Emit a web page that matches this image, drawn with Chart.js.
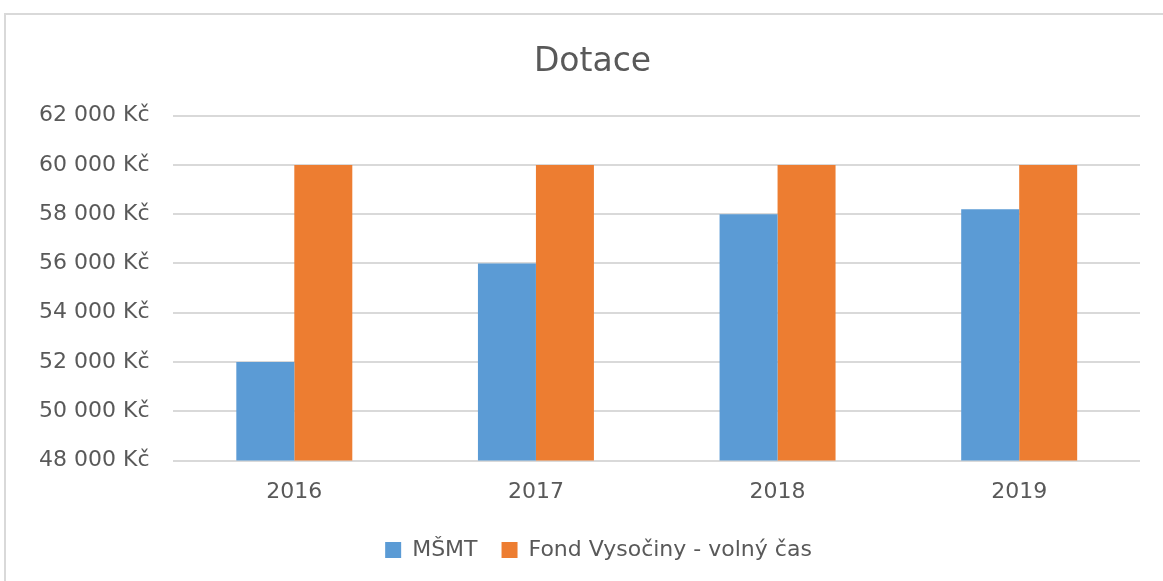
<!DOCTYPE html>
<html>
<head>
<meta charset="utf-8">
<script src="https://cdn.jsdelivr.net/npm/chart.js@4"></script>
<style>
  body { margin: 0; background: #fff; }
  #frame {
    position: absolute; left: 4px; top: 13px; width: 1170px; height: 580px;
    border: 2px solid #d9d9d9; box-sizing: border-box;
  }
  #wrap { position: absolute; left: 0; top: 0; width: 1163px; height: 581px; }
</style>
</head>
<body>
<div id="frame"></div>
<div id="wrap"><canvas id="chart"></canvas></div>
<script>
const years = ['2016', '2017', '2018', '2019'];
const msmt = [52000, 56000, 58000, 58200];
const fond = [60000, 60000, 60000, 60000];
const series_names = ['MŠMT', 'Fond Vysočiny - volný čas'];
const TEXT = '#595959';
const FONT = "'DejaVu Sans', sans-serif";

function kc(value) {
  // 62000 -> "62 000 Kč"
  let s = String(value).replace(/\B(?=(\d{3})+(?!\d))/g, ' ');
  return s + ' Kč';
}

// title and legend sit a little right of the canvas centre in the original
const nudge = {
  id: 'nudge',
  afterLayout(chart) {
    chart.titleBlock.left += 15;
    chart.titleBlock.right += 15;
    chart.legend.left += 21;
    chart.legend.right += 21;
  }
};

new Chart(document.getElementById('chart'), {
  type: 'bar',
  data: {
    labels: years,
    datasets: [
      { label: series_names[0], data: msmt, backgroundColor: '#5b9bd5' },
      { label: series_names[1], data: fond, backgroundColor: '#ed7d31' }
    ]
  },
  plugins: [nudge],
  options: {
    responsive: true,
    maintainAspectRatio: false,
    animation: false,
    layout: { padding: { left: 15, right: 23, top: 43, bottom: 10 } },
    datasets: { bar: { categoryPercentage: 0.48, barPercentage: 1 } },
    plugins: {
      title: {
        display: true, text: 'Dotace', color: TEXT,
        font: { family: FONT, size: 33, weight: 'normal' },
        padding: { top: 0, bottom: 33 }
      },
      legend: {
        position: 'bottom',
        labels: {
          color: TEXT, font: { family: FONT, size: 22 },
          boxWidth: 16, boxHeight: 16, padding: 24
        }
      },
      tooltip: { enabled: false }
    },
    scales: {
      x: {
        grid: { display: false },
        border: { display: false },
        ticks: { color: TEXT, font: { family: FONT, size: 22 }, padding: 10 }
      },
      y: {
        min: 48000, max: 62000,
        grid: { color: '#d9d9d9', lineWidth: 2, drawTicks: false },
        border: { display: false },
        ticks: {
          stepSize: 2000, color: TEXT, padding: 24,
          font: { family: FONT, size: 22 },
          callback: v => kc(v)
        }
      }
    }
  }
});
</script>
</body>
</html>
